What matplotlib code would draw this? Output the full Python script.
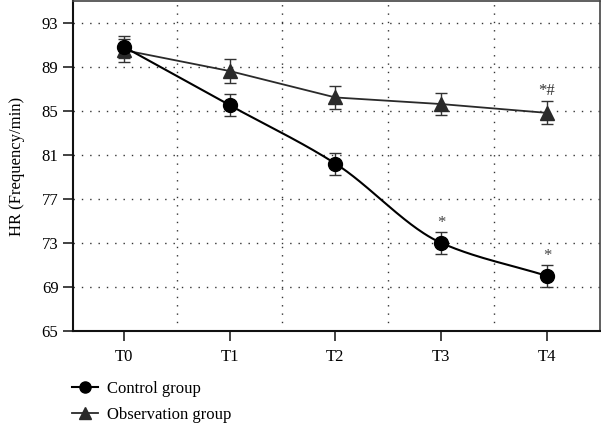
import numpy as np
import matplotlib

matplotlib.use("Agg")
import matplotlib.pyplot as plt
from matplotlib.lines import Line2D

# --- data ------------------------------------------------------------------
time_points = ["T0", "T1", "T2", "T3", "T4"]
control_mean = [90.8, 85.5, 80.2, 73.0, 70.0]
control_err = [1.0, 1.0, 1.0, 1.0, 1.0]
observation_mean = [90.5, 88.6, 86.2, 85.6, 84.8]
observation_err = [1.05, 1.05, 1.05, 1.0, 1.05]
y_ticks = [65, 69, 73, 77, 81, 85, 89, 93]
control_marks = {3: "*", 4: "*"}
observation_marks = {4: "*#"}

plt.rcParams["font.family"] = ["Liberation Serif", "DejaVu Serif"]


def pchip(x, y, n=200):
    """Monotone cubic curve through the points (Fritsch-Carlson)."""
    x = np.asarray(x, float)
    y = np.asarray(y, float)
    h = np.diff(x)
    d = np.diff(y) / h
    m = np.zeros_like(y)
    for k in range(1, len(y) - 1):
        if d[k - 1] * d[k] > 0:
            w1 = 2 * h[k] + h[k - 1]
            w2 = h[k] + 2 * h[k - 1]
            m[k] = (w1 + w2) / (w1 / d[k - 1] + w2 / d[k])
    m[0] = d[0]
    m[-1] = d[-1]
    xs = np.linspace(x[0], x[-1], n)
    idx = np.clip(np.searchsorted(x, xs) - 1, 0, len(h) - 1)
    t = (xs - x[idx]) / h[idx]
    h00 = 2 * t**3 - 3 * t**2 + 1
    h10 = t**3 - 2 * t**2 + t
    h01 = -2 * t**3 + 3 * t**2
    h11 = t**3 - t**2
    ys = (h00 * y[idx] + h10 * h[idx] * m[idx]
          + h01 * y[idx + 1] + h11 * h[idx] * m[idx + 1])
    return xs, ys


fig = plt.figure(figsize=(6.01, 4.23), dpi=100)
ax = fig.add_axes([0.1215, 0.2175, 0.8765, 0.78])

x = np.arange(len(time_points))

# Observation group (triangles), straight segments
ax.plot(x, observation_mean, color="#2a2a2a", lw=1.3, zorder=3)
ax.errorbar(x, observation_mean, yerr=observation_err, fmt="none",
            ecolor="#333333", elinewidth=1.0, capsize=4, capthick=1.0, zorder=4)
ax.plot(x, observation_mean, ls="none", marker="^", ms=10,
        color="#2a2a2a", zorder=5)

# Control group (circles), smoothed curve
xs, ys = pchip(x, control_mean)
ax.plot(xs, ys, color="black", lw=1.5, zorder=3)
ax.errorbar(x, control_mean, yerr=control_err, fmt="none",
            ecolor="#333333", elinewidth=1.0, capsize=4, capthick=1.0, zorder=4)
ax.plot(x, control_mean, ls="none", marker="o", ms=10, color="black", zorder=6)

# significance marks
for i, s in control_marks.items():
    ax.text(x[i], control_mean[i] + control_err[i] + 0.1, s,
            ha="center", va="bottom", fontsize=12, color="#444444")
for i, s in observation_marks.items():
    ax.text(x[i], observation_mean[i] + observation_err[i] + 0.25, s,
            ha="center", va="bottom", fontsize=12, color="#333333")

ax.set_xlim(-0.48, 4.5)
ax.set_ylim(65, 94.95)
ax.set_xticks(x)
ax.set_xticklabels(time_points)
ax.set_yticks(y_ticks)
ax.set_xticks(x[:-1] + 0.5, minor=True)
ax.tick_params(axis="x", which="minor", length=0)
ax.tick_params(axis="both", which="major", direction="out", length=7,
               width=1.2, labelsize=12, color="#222222")
ax.tick_params(axis="x", which="major", pad=6)
ax.grid(axis="y", which="major", ls=(0, (1, 5)), color="#333333", lw=1.0)
ax.grid(axis="x", which="minor", ls=(0, (1, 5)), color="#333333", lw=1.0)
ax.set_ylabel("HR (Frequency/min)", fontsize=12, labelpad=12)

for side in ("left", "bottom"):
    ax.spines[side].set_linewidth(1.5)
    ax.spines[side].set_color("#111111")
for side in ("top", "right"):
    ax.spines[side].set_linewidth(1.2)
    ax.spines[side].set_color("#444444")

handles = [
    Line2D([], [], color="black", lw=1.5, marker="o", ms=8),
    Line2D([], [], color="#2a2a2a", lw=1.3, marker="^", ms=8),
]
fig.legend(handles, ["Control group", "Observation group"],
           loc="upper left", bbox_to_anchor=(0.108, 0.115),
           frameon=False, fontsize=12, handlelength=1.6, handletextpad=0.5,
           labelspacing=0.6, borderaxespad=0)

fig.savefig("out.png", dpi=100)
